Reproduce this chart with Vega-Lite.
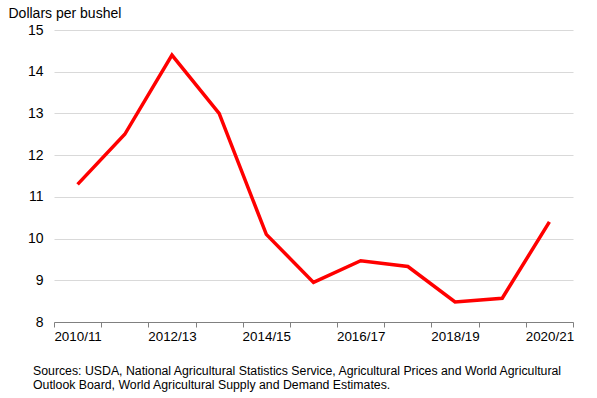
{
  "$schema": "https://vega.github.io/schema/vega-lite/v6.json",
  "autosize": "none",
  "width": 519,
  "height": 292,
  "padding": {"left": 54, "top": 30, "right": 24, "bottom": 76},
  "background": "white",
  "config": {
    "view": {"stroke": null},
    "font": "Liberation Sans",
    "axis": {"labelFont": "Liberation Sans", "titleFont": "Liberation Sans", "labelColor": "#000000", "titleColor": "#000000"}
  },
  "title": {
    "text": ["Sources: USDA, National Agricultural Statistics Service, Agricultural Prices and World Agricultural", "Outlook Board, World Agricultural Supply and Demand Estimates."],
    "orient": "bottom",
    "anchor": "start",
    "frame": "group",
    "dx": -21,
    "offset": 23,
    "baseline": "top",
    "font": "Liberation Sans",
    "fontSize": 12.3,
    "fontWeight": "normal",
    "color": "#000000",
    "lineHeight": 14
  },
  "data": {
    "values": [
      {"year": "2010/11", "price": 11.30},
      {"year": "2011/12", "price": 12.50},
      {"year": "2012/13", "price": 14.40},
      {"year": "2013/14", "price": 13.00},
      {"year": "2014/15", "price": 10.10},
      {"year": "2015/16", "price": 8.95},
      {"year": "2016/17", "price": 9.47},
      {"year": "2017/18", "price": 9.33},
      {"year": "2018/19", "price": 8.48},
      {"year": "2019/20", "price": 8.57},
      {"year": "2020/21", "price": 10.40}
    ]
  },
  "mark": {"type": "line", "color": "#FF0000", "strokeWidth": 3.5},
  "encoding": {
    "x": {
      "field": "year",
      "type": "ordinal",
      "scale": {"type": "band", "paddingInner": 0, "paddingOuter": 0},
      "axis": {
        "title": null,
        "labelAngle": 0,
        "labelFontSize": 13.4,
        "labelExpr": "indexof(['2010/11','2012/13','2014/15','2016/17','2018/19','2020/21'], datum.value) >= 0 ? datum.value : ''",
        "tickBand": "extent",
        "tickSize": 5,
        "tickColor": "#808080",
        "domainColor": "#808080",
        "labelPadding": 2,
        "grid": false
      }
    },
    "y": {
      "field": "price",
      "type": "quantitative",
      "scale": {"domain": [8, 15], "nice": false, "zero": false},
      "axis": {
        "values": [8, 9, 10, 11, 12, 13, 14, 15],
        "title": "Dollars per bushel",
        "titleAngle": 0,
        "titleAlign": "left",
        "titleBaseline": "alphabetic",
        "titleX": -46,
        "titleY": -13,
        "titleFontSize": 14,
        "titleFontWeight": "normal",
        "labelFontSize": 14,
        "ticks": false,
        "domain": false,
        "labelPadding": 11,
        "gridColor": "#d9d9d9",
        "gridWidth": 1
      }
    }
  }
}
